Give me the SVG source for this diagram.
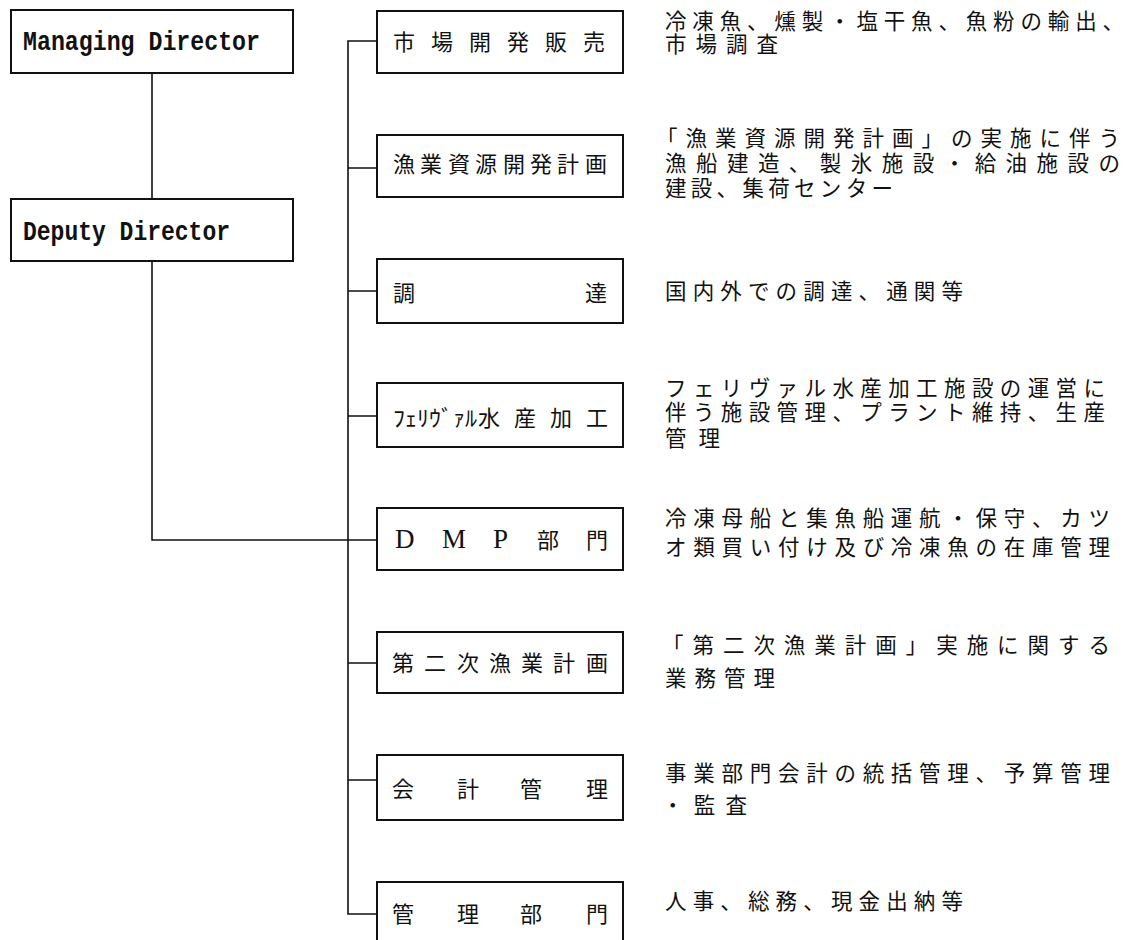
<svg xmlns="http://www.w3.org/2000/svg" width="1131" height="940" viewBox="0 0 1131 940">
<style>
.bg{fill:#fff}
.box{fill:#fff;stroke:#111;stroke-width:2}
.ln{fill:none;stroke:#111;stroke-width:1.6}
.en{font-family:"Liberation Mono","DejaVu Sans Mono",monospace;font-weight:bold;font-size:27px;fill:#111}
.jp{font-family:"Noto Sans CJK JP","Noto Sans CJK SC",sans-serif;font-size:22px;fill:#111}
.lat{font-family:"Liberation Serif",serif;font-size:27px;fill:#111}
.ds{font-family:"Noto Sans CJK JP","Noto Sans CJK SC",sans-serif;font-size:21.5px;fill:#111}
</style>
<rect class="bg" x="0" y="0" width="1131" height="940"/>
<g id="connectors">
<path class="ln" d="M152,73 V199"/>
<path class="ln" d="M152,261 V540 H377"/>
<path class="ln" d="M377,41 H348 V914 H377"/>
<path class="ln" d="M348,168 H377 M348,291 H377 M348,416 H377 M348,663 H377 M348,780 H377"/>
</g>
<g id="managing-director">
<rect class="box" x="11" y="10" width="282" height="63"/>
<text class="en" x="23" y="50" textLength="237" lengthAdjust="spacingAndGlyphs">Managing Director</text>
</g>
<g id="deputy-director">
<rect class="box" x="11" y="199" width="282" height="62"/>
<text class="en" x="23" y="240" textLength="207" lengthAdjust="spacingAndGlyphs">Deputy Director</text>
</g>
<g id="market">
<rect class="box" x="377" y="11" width="246" height="62"/>
<text class="jp" x="393 431 469 507 545 583" y="50">市場開発販売</text>
</g>
<g id="resource">
<rect class="box" x="377" y="135" width="246" height="62"/>
<text class="jp" x="393 420 448 475 503 530 557 585" y="172">漁業資源開発計画</text>
</g>
<g id="procurement">
<rect class="box" x="377" y="259" width="246" height="64"/>
<text class="jp" x="393 585" y="301">調達</text>
</g>
<g id="ferivaru">
<rect class="box" x="377" y="383" width="246" height="64"/>
<text class="jp" x="393" y="426" textLength="84" lengthAdjust="spacingAndGlyphs">ﾌｪﾘｳﾞｧﾙ</text>
<text class="jp" x="478 514 550 586" y="426">水産加工</text>
</g>
<g id="dmp">
<rect class="box" x="377" y="508" width="246" height="62"/>
<text class="lat" x="395 442 493" y="548">DMP</text>
<text class="jp" x="537 586" y="548">部門</text>
</g>
<g id="second-plan">
<rect class="box" x="377" y="632" width="246" height="61"/>
<text class="jp" x="392 424 457 489 521 553 586" y="671">第二次漁業計画</text>
</g>
<g id="accounting">
<rect class="box" x="377" y="755" width="246" height="65"/>
<text class="jp" x="392 457 520 586" y="797">会計管理</text>
</g>
<g id="admin">
<rect class="box" x="377" y="882" width="246" height="70"/>
<text class="jp" x="392 457 520 586" y="922">管理部門</text>
</g>
<g id="descriptions">
<text class="ds"><tspan x="665" y="29" textLength="459" lengthAdjust="spacing">冷凍魚、燻製・塩干魚、魚粉の輸出、</tspan><tspan x="665" y="52" textLength="113" lengthAdjust="spacing">市場調査</tspan></text>
<text class="ds"><tspan x="656" y="146" textLength="464" lengthAdjust="spacing">「漁業資源開発計画」の実施に伴う</tspan><tspan x="665" y="171" textLength="455" lengthAdjust="spacing">漁船建造、製氷施設・給油施設の</tspan><tspan x="665" y="196" textLength="228" lengthAdjust="spacing">建設、集荷センター</tspan></text>
<text class="ds" x="665" y="299" textLength="298" lengthAdjust="spacing">国内外での調達、通関等</text>
<text class="ds"><tspan x="665" y="396" textLength="440" lengthAdjust="spacing">フェリヴァル水産加工施設の運営に</tspan><tspan x="665" y="420" textLength="440" lengthAdjust="spacing">伴う施設管理、プラント維持、生産</tspan><tspan x="665" y="446" textLength="55" lengthAdjust="spacing">管理</tspan></text>
<text class="ds"><tspan x="665" y="526" textLength="445" lengthAdjust="spacing">冷凍母船と集魚船運航・保守、カツ</tspan><tspan x="665" y="555" textLength="445" lengthAdjust="spacing">オ類買い付け及び冷凍魚の在庫管理</tspan></text>
<text class="ds"><tspan x="662" y="653" textLength="448" lengthAdjust="spacing">「第二次漁業計画」実施に関する</tspan><tspan x="665" y="686" textLength="110" lengthAdjust="spacing">業務管理</tspan></text>
<text class="ds"><tspan x="665" y="781" textLength="445" lengthAdjust="spacing">事業部門会計の統括管理、予算管理</tspan><tspan x="662" y="813" textLength="85" lengthAdjust="spacing">・監査</tspan></text>
<text class="ds" x="665" y="909" textLength="298" lengthAdjust="spacing">人事、総務、現金出納等</text>
</g>
</svg>
